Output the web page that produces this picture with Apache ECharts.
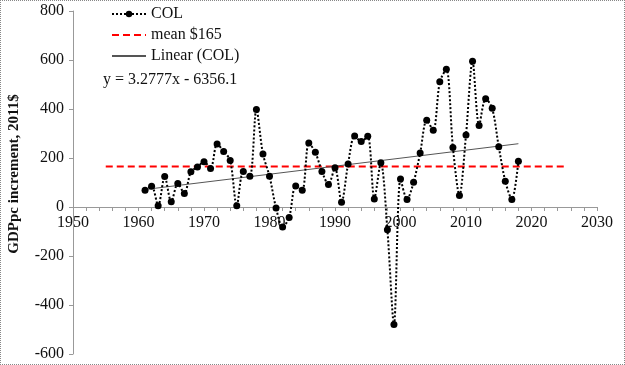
<!DOCTYPE html>
<html>
<head>
<meta charset="utf-8">
<script src="https://cdn.jsdelivr.net/npm/echarts@6/dist/echarts.min.js"></script>
<style>
html,body{margin:0;padding:0;background:#fff;}
#c{width:625px;height:365px;box-sizing:border-box;border:1px dotted #888;}
</style>
</head>
<body>
<div id="c"></div>
<script>
const years = [1961,1962,1963,1964,1965,1966,1967,1968,1969,1970,1971,1972,1973,1974,1975,
  1976,1977,1978,1979,1980,1981,1982,1983,1984,1985,1986,1987,1988,1989,
  1990,1991,1992,1993,1994,1995,1996,1997,1998,1999,2000,2001,2002,2003,
  2004,2005,2006,2007,2008,2009,2010,2011,2012,2013,2014,2015,2016,2017,2018];
const colValues = [68,85,5,125,21,96,55,144,163,185,157,257,227,190,5,
  145,126,398,216,126,-4,-82,-43,86,68,261,223,145,92,
  160,19,176,290,267,289,33,181,-93,-480,114,31,101,220,
  354,313,511,562,243,47,294,595,333,442,403,246,105,31,187];
const meanValue = 165;
const meanRange = [1955, 2025];
const trendSlope = 3.2777;
const trendIntercept = -6356.1;
const seriesNames = ['COL', 'mean $165', 'Linear (COL)'];
const equationText = 'y = 3.2777x - 6356.1';
const yTitle = 'GDPpc increment, 2011$';

const FONT = 'Liberation Serif';
const colData = years.map((y, i) => [y, colValues[i]]);
const meanData = meanRange.map(y => [y, meanValue]);
const tFirst = years[0], tLast = years[years.length - 1];
const trendData = [tFirst, tLast].map(y => [y, trendSlope * y + trendIntercept]);

const GRID_TOP = 10, GRID_BOTTOM = 10, H = 365;
const Y_MIN = -600, Y_MAX = 800;
const zeroY = GRID_TOP + (H - GRID_TOP - GRID_BOTTOM) * Y_MAX / (Y_MAX - Y_MIN);
const labelMargin = Math.round(zeroY + 9 - (H - GRID_BOTTOM));

const chart = echarts.init(document.getElementById('c'));
chart.setOption({
  animation: false,
  grid: {left: 72, right: 27, top: GRID_TOP, bottom: GRID_BOTTOM, outerBoundsMode: 'none', containLabel: false},
  legend: {
    orient: 'vertical', left: 105, top: 0, itemWidth: 34, itemHeight: 8, itemGap: 5,
    textStyle: {fontFamily: FONT, fontSize: 16, color: '#111'},
    data: seriesNames
  },
  graphic: [
    {type: 'text', left: 102, top: 71, style: {text: equationText, font: '16px "Liberation Serif"', fill: '#111'}},
    {type: 'text', x: 6, y: 173, rotation: Math.PI / 2, style: {text: yTitle, font: 'bold 15px "Liberation Serif"', fill: '#111', align: 'center', verticalAlign: 'top'}}
  ],
  xAxis: {
    type: 'value', min: 1950, max: 2030, interval: 10,
    axisLine: {show: true, onZero: true, lineStyle: {color: '#999'}},
    axisTick: {show: true, length: 4, lineStyle: {color: '#999'}},
    minorTick: {show: true, splitNumber: 5, length: 4, lineStyle: {color: '#999'}},
    splitLine: {show: false},
    axisLabel: {fontFamily: FONT, fontSize: 16, color: '#111', margin: labelMargin,
      formatter: v => String(v)}
  },
  yAxis: {
    type: 'value', min: Y_MIN, max: Y_MAX, interval: 200,
    axisLine: {show: true, lineStyle: {color: '#999'}},
    axisTick: {show: true, length: 4, lineStyle: {color: '#999'}},
    splitLine: {show: false},
    axisLabel: {fontFamily: FONT, fontSize: 16, color: '#111', margin: 9}
  },
  series: [
    {
      name: seriesNames[0], type: 'line', data: colData, smooth: 0.3,
      symbol: 'circle', symbolSize: 7,
      itemStyle: {color: '#000'},
      lineStyle: {color: '#000', width: 2, type: 'dotted'},
      z: 3
    },
    {
      name: seriesNames[1], type: 'line', data: meanData, symbol: 'none',
      lineStyle: {color: '#ff0000', width: 2, type: [7, 4]},
      itemStyle: {color: '#ff0000', opacity: 0}, z: 2
    },
    {
      name: seriesNames[2], type: 'line', data: trendData, symbol: 'none',
      lineStyle: {color: '#555', width: 1},
      itemStyle: {color: '#555', opacity: 0}, z: 2
    }
  ]
});
</script>
</body>
</html>
